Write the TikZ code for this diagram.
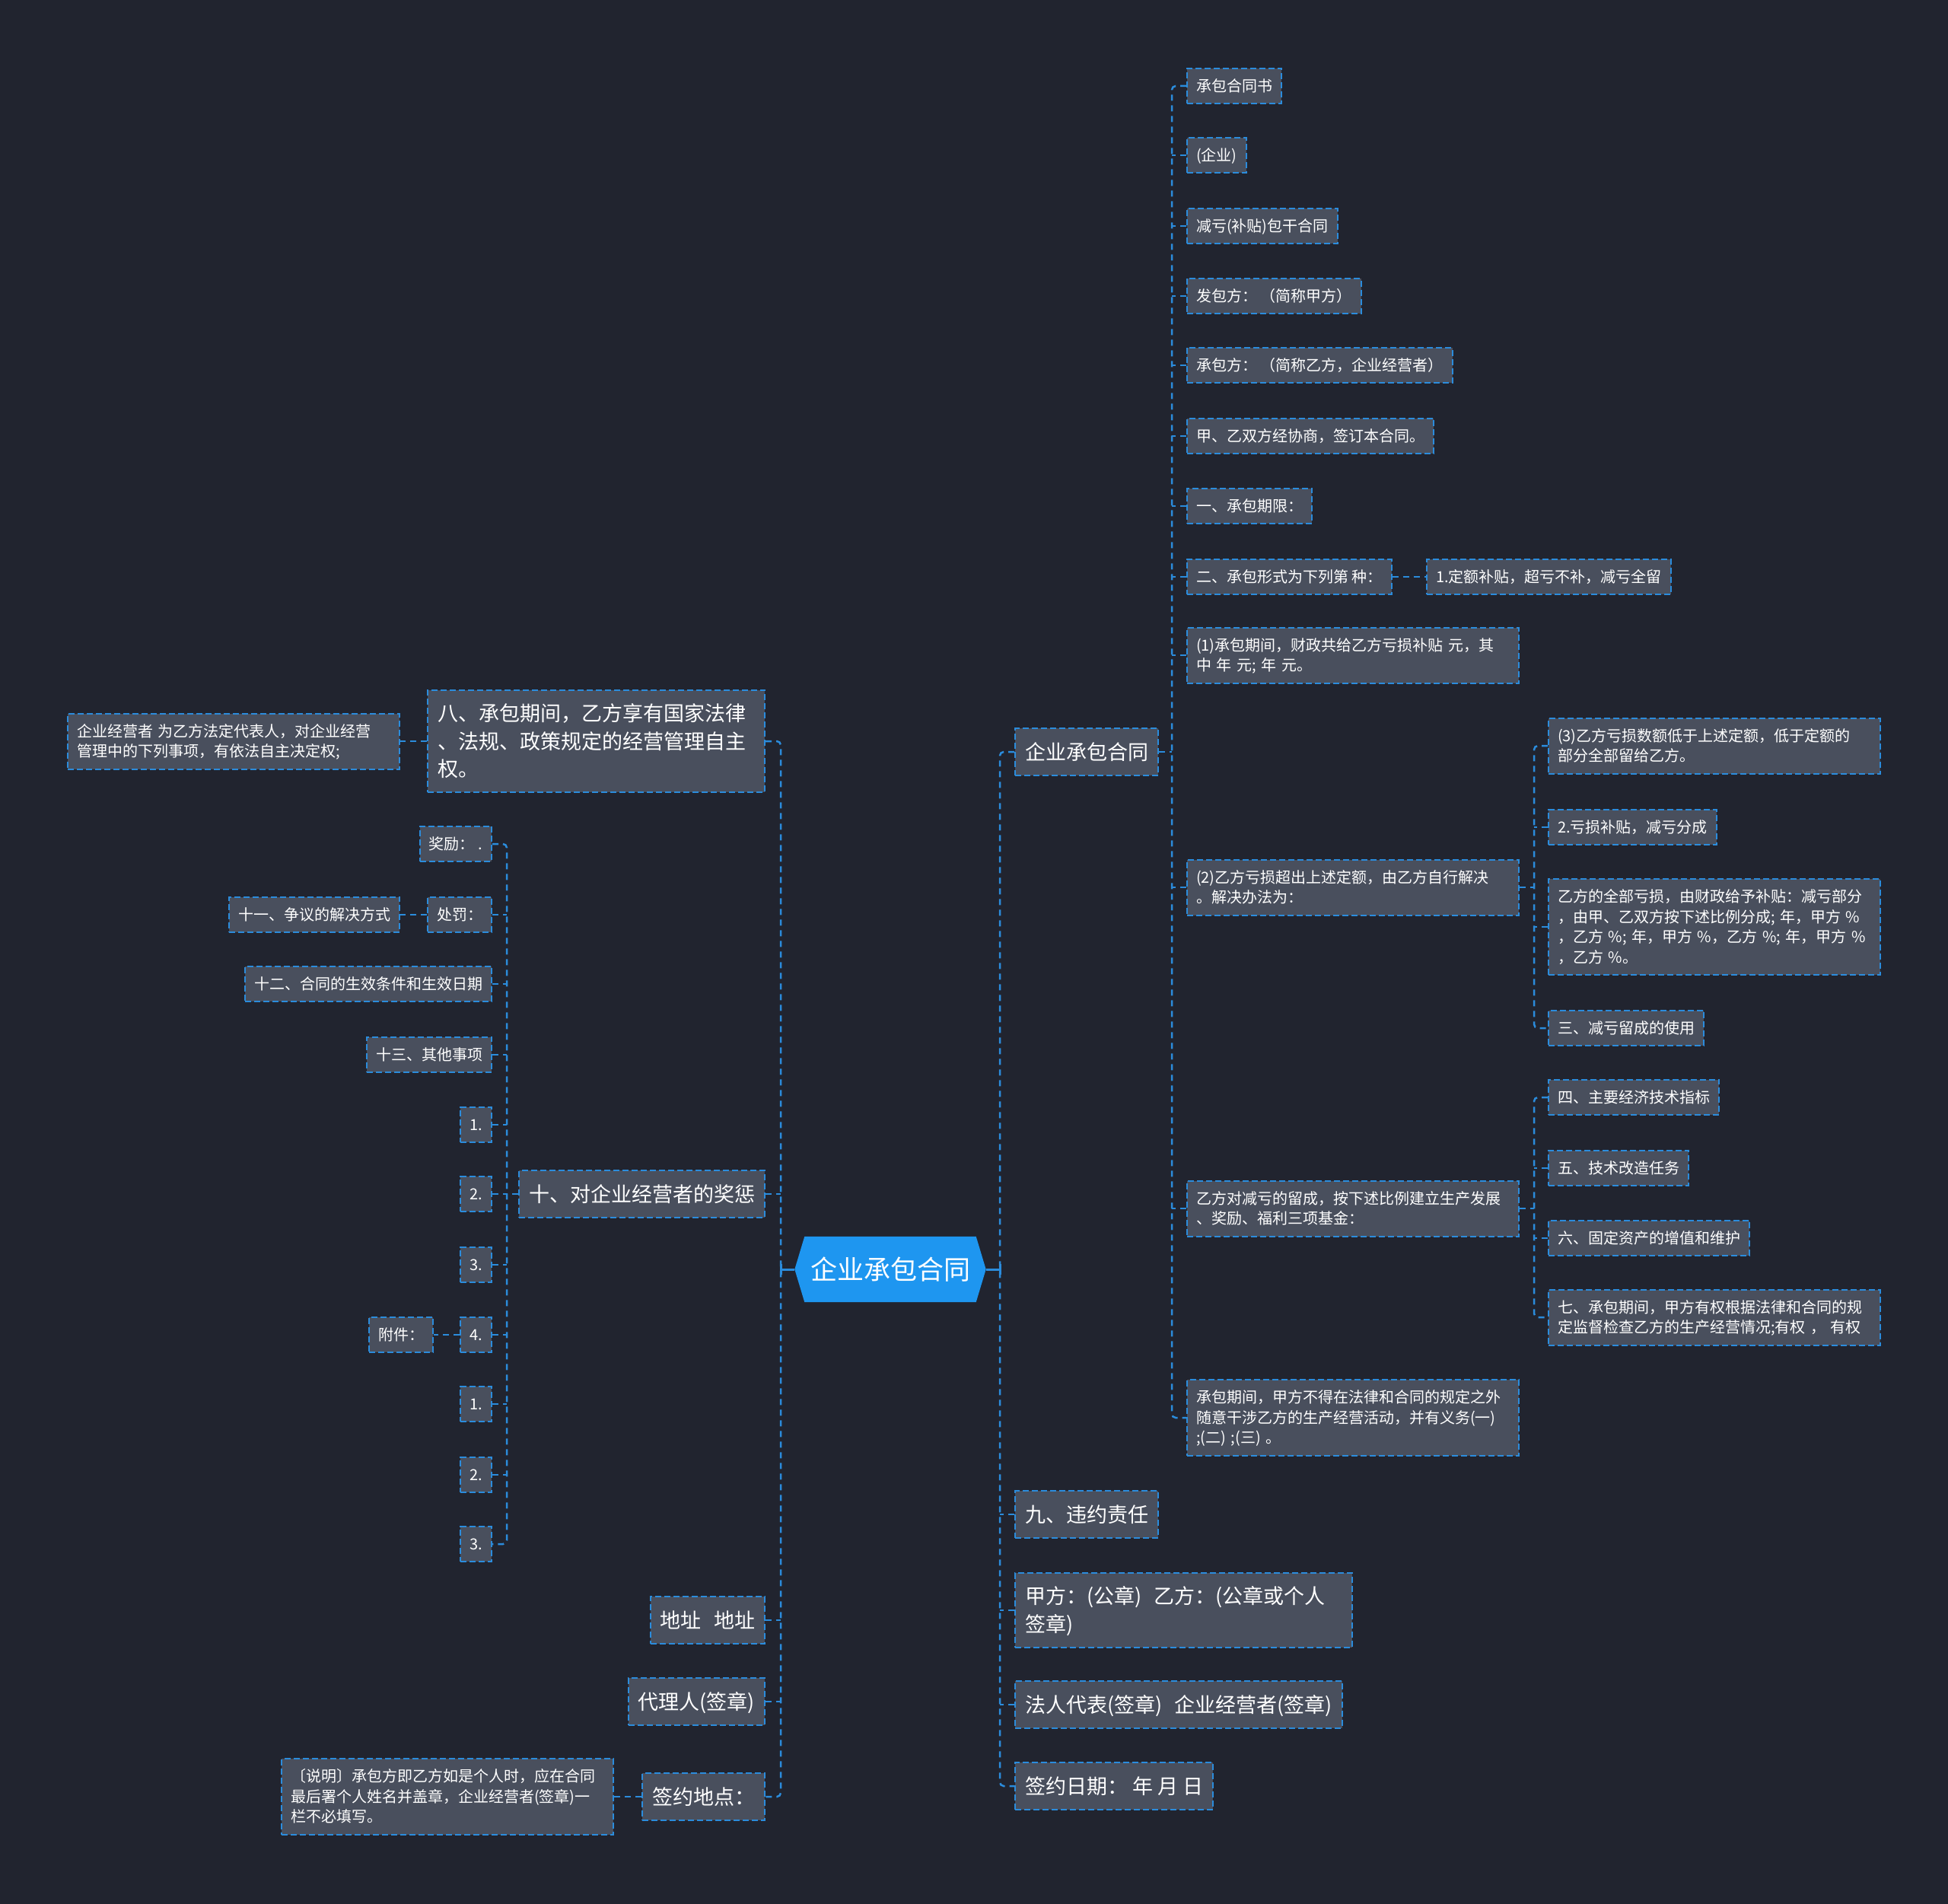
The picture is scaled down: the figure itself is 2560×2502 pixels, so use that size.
\documentclass[tikz,border=0pt]{standalone}
\usepackage{fontspec}
\setmainfont{Noto Sans CJK SC}
\usetikzlibrary{backgrounds}
\setlength{\parindent}{0pt}
\definecolor{bgc}{HTML}{21242F}
\definecolor{boxc}{HTML}{494F5D}
\definecolor{linec}{HTML}{2B8CDC}
\definecolor{rootc}{HTML}{1E96F0}
\newcommand\mystrut{\leavevmode\vrule height 0.78\baselineskip depth 0.22\baselineskip width 0pt\relax}
\tikzset{
  x=1pt, y=-1pt,
  leaf/.style={draw=linec, fill=boxc, line width=2pt, dash pattern=on 8pt off 4pt, text=white,
    font=\fontsize{20}{26.5}\selectfont, inner xsep=12pt, inner ysep=10pt,
    execute at begin node=\mystrut, execute at end node=\mystrut},
  leafm/.style={leaf, text width=412pt, align=left},
  mainb/.style={leaf, font=\fontsize{27}{36.5}\selectfont, inner xsep=13pt, inner ysep=12.5pt},
  mainm/.style={mainb, text width=417pt, align=left},
  conn/.style={draw=linec, line width=2.5pt, dash pattern=on 8pt off 6pt, rounded corners=5pt},
  solidc/.style={draw=linec, line width=3pt},
}
\begin{document}
\begin{tikzpicture}
\useasboundingbox (0,0) rectangle (2560,2502);
% root
\node[font=\fontsize{35}{42}\selectfont, text=white, minimum width=225pt, minimum height=86pt, inner sep=0pt] (root) at (1170,1668) {企业承包合同};
\begin{pgfonlayer}{background}
\fill[bgc] (0,0) rectangle (2560,2502);
\fill[rootc] ([xshift=-13pt]root.west) -- (root.north west) -- (root.north east) -- ([xshift=13pt]root.east) -- (root.south east) -- (root.south west) -- cycle;
\end{pgfonlayer}
% trunk x positions
\coordinate (tR) at (1314,0);
\coordinate (tL) at (1026,0);
\coordinate (t2) at (1540,0);
\coordinate (t3) at (2016,0);
\coordinate (tM) at (666,0);
% right level 1
\node[mainb, anchor=west] (r1) at (1333,988) {企业承包合同};
\node[mainb, anchor=west] (r2) at (1333,1990) {九、违约责任};
\node[mainm, anchor=west] (r3) at (1333,2116) {甲方：(公章)\hspace{0.6em}乙方：(公章或个人\\签章)};
\node[mainb, anchor=west] (r4) at (1333,2240) {法人代表(签章)\hspace{0.6em}企业经营者(签章)};
\node[mainb, anchor=west] (r5) at (1333,2347) {签约日期： 年 月 日};
% right level 2
\node[leaf, anchor=west] (c1) at (1559,113) {承包合同书};
\node[leaf, anchor=west] (c2) at (1559,204) {(企业)};
\node[leaf, anchor=west] (c3) at (1559,297) {减亏(补贴)包干合同};
\node[leaf, anchor=west] (c4) at (1559,389) {发包方： （简称甲方）};
\node[leaf, anchor=west] (c5) at (1559,480) {承包方： （简称乙方，企业经营者）};
\node[leaf, anchor=west] (c6) at (1559,573) {甲、乙双方经协商，签订本合同。};
\node[leaf, anchor=west] (c7) at (1559,665) {一、承包期限：};
\node[leaf, anchor=west] (c8) at (1559,758) {二、承包形式为下列第 种：};
\node[leaf, anchor=west] (c8a) at (1874,758) {1.定额补贴，超亏不补，减亏全留};
\node[leafm, anchor=west] (c9) at (1559,861) {(1)承包期间，财政共给乙方亏损补贴 元，其\\中 年 元; 年 元。};
\node[leafm, anchor=west] (c10) at (1559,1166) {(2)乙方亏损超出上述定额，由乙方自行解决\\。解决办法为：};
\node[leafm, anchor=west] (c11) at (1559,1588) {乙方对减亏的留成，按下述比例建立生产发展\\、奖励、福利三项基金：};
\node[leafm, anchor=west] (c12) at (1559,1863) {承包期间，甲方不得在法律和合同的规定之外\\随意干涉乙方的生产经营活动，并有义务(一)\\;(二) ;(三) 。};
% level 3 under (2)
\node[leafm, anchor=west] (d1) at (2034,980) {(3)乙方亏损数额低于上述定额，低于定额的\\部分全部留给乙方。};
\node[leaf, anchor=west] (d2) at (2034,1087) {2.亏损补贴，减亏分成};
\node[leafm, anchor=west] (d3) at (2034,1218) {乙方的全部亏损，由财政给予补贴：减亏部分\\，由甲、乙双方按下述比例分成; 年，甲方 \%\\，乙方 \%; 年，甲方 \%，乙方 \%; 年，甲方 \%\\，乙方 \%。};
\node[leaf, anchor=west] (d4) at (2034,1351) {三、减亏留成的使用};
% level 3 under 乙方对减亏
\node[leaf, anchor=west] (e1) at (2034,1442) {四、主要经济技术指标};
\node[leaf, anchor=west] (e2) at (2034,1535) {五、技术改造任务};
\node[leaf, anchor=west] (e3) at (2034,1627) {六、固定资产的增值和维护};
\node[leafm, anchor=west] (e4) at (2034,1731) {七、承包期间，甲方有权根据法律和合同的规\\定监督检查乙方的生产经营情况;有权 ， 有权};
% left level 1
\node[mainm, anchor=east] (l1) at (1006,974) {八、承包期间，乙方享有国家法律\\、法规、政策规定的经营管理自主\\权。};
\node[leafm, anchor=east] (l1a) at (526,974) {企业经营者 为乙方法定代表人，对企业经营\\管理中的下列事项，有依法自主决定权;};
\node[mainb, anchor=east] (l2) at (1006,1569) {十、对企业经营者的奖惩};
\node[mainb, anchor=east] (l3) at (1006,2129) {地址\hspace{0.6em}地址};
\node[mainb, anchor=east] (l4) at (1006,2236) {代理人(签章)};
\node[mainb, anchor=east] (l5) at (1006,2361) {签约地点：};
\node[leafm, anchor=east] (l5a) at (807,2361) {〔说明〕承包方即乙方如是个人时，应在合同\\最后署个人姓名并盖章，企业经营者(签章)一\\栏不必填写。};
% left level 2 under 十
\node[leaf, anchor=east] (m1) at (647,1109) {奖励： .};
\node[leaf, anchor=east] (m2) at (647,1202) {处罚：};
\node[leaf, anchor=east] (m2a) at (526,1202) {十一、争议的解决方式};
\node[leaf, anchor=east] (m3) at (647,1293) {十二、合同的生效条件和生效日期};
\node[leaf, anchor=east] (m4) at (647,1386) {十三、其他事项};
\node[leaf, anchor=east] (m5) at (647,1478) {1.};
\node[leaf, anchor=east] (m6) at (647,1569) {2.};
\node[leaf, anchor=east] (m7) at (647,1662) {3.};
\node[leaf, anchor=east] (m8) at (647,1754) {4.};
\node[leaf, anchor=east] (m8a) at (570,1754) {附件：};
\node[leaf, anchor=east] (m9) at (647,1845) {1.};
\node[leaf, anchor=east] (m10) at (647,1938) {2.};
\node[leaf, anchor=east] (m11) at (647,2029) {3.};
% connectors: root to trunks
\draw[solidc] ([xshift=13pt]root.east) -- (root.east -| tR);
\draw[solidc] ([xshift=-13pt]root.west) -- (root.west -| tL);
\draw[solidc] ([yshift=-7pt]root.east -| tR) -- ([yshift=7pt]root.east -| tR);
\draw[solidc] ([yshift=-7pt]root.west -| tL) -- ([yshift=7pt]root.west -| tL);
% right level 1
\draw[conn] (r1.west) -- (r1.west -| tR) -- (r5.west -| tR) -- (r5.west);
\foreach \n in {r2,r3,r4} \draw[conn] (\n.west) -- (\n.west -| tR);
% right level 2
\draw[conn] (r1.east) -- (r1.east -| t2);
\draw[conn] (c1.west) -- (c1.west -| t2) -- (c12.west -| t2) -- (c12.west);
\foreach \n in {c2,c3,c4,c5,c6,c7,c8,c9,c10,c11} \draw[conn] (\n.west) -- (\n.west -| t2);
\draw[conn] (c8.east) -- (c8a.west);
% level 3
\draw[conn] (c10.east) -- (c10.east -| t3);
\draw[conn] (d1.west) -- (d1.west -| t3) -- (d4.west -| t3) -- (d4.west);
\foreach \n in {d2,d3} \draw[conn] (\n.west) -- (\n.west -| t3);
\draw[conn] (c11.east) -- (c11.east -| t3);
\draw[conn] (e1.west) -- (e1.west -| t3) -- (e4.west -| t3) -- (e4.west);
\foreach \n in {e2,e3} \draw[conn] (\n.west) -- (\n.west -| t3);
% left level 1
\draw[conn] (l1.east) -- (l1.east -| tL) -- (l5.east -| tL) -- (l5.east);
\foreach \n in {l2,l3,l4} \draw[conn] (\n.east) -- (\n.east -| tL);
\draw[conn] (l1.west) -- (l1a.east);
\draw[conn] (l5.west) -- (l5a.east);
% left level 2
\draw[conn] (l2.west) -- (l2.west -| tM);
\draw[conn] (m1.east) -- (m1.east -| tM) -- (m11.east -| tM) -- (m11.east);
\foreach \n in {m2,m3,m4,m5,m6,m7,m8,m9,m10} \draw[conn] (\n.east) -- (\n.east -| tM);
\draw[conn] (m2.west) -- (m2a.east);
\draw[conn] (m8.west) -- (m8a.east);
\end{tikzpicture}
\end{document}
